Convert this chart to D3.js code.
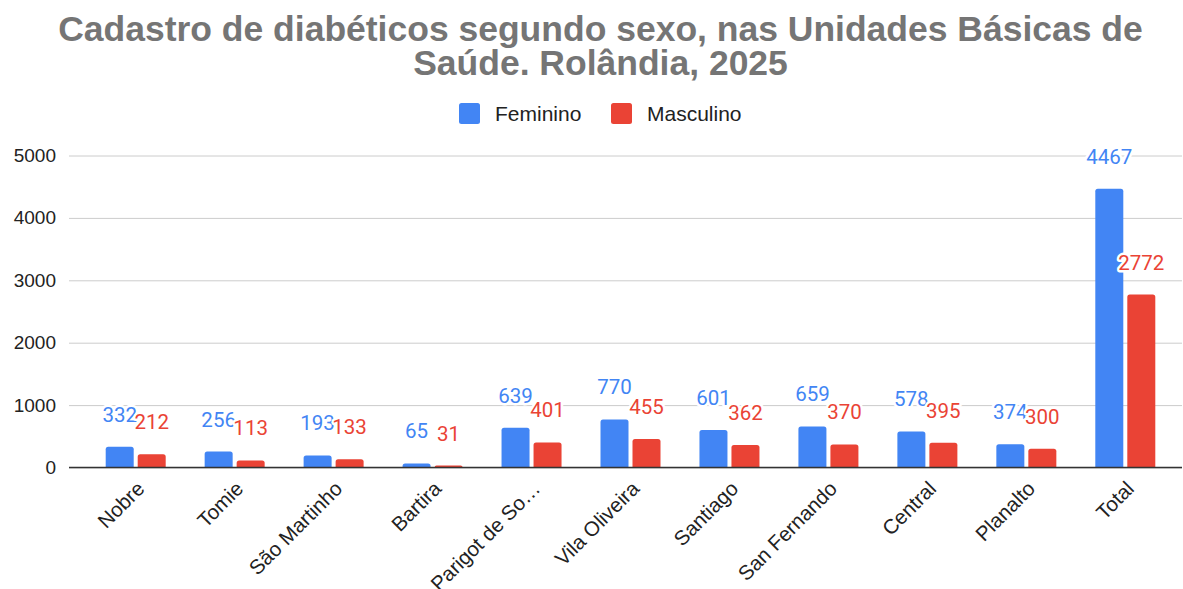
<!DOCTYPE html>
<html>
<head>
<meta charset="utf-8">
<script src="https://cdn.jsdelivr.net/npm/d3@7"></script>
<style>
  html, body { margin: 0; padding: 0; background: #fff; }
  svg { display: block; }
</style>
</head>
<body>
<svg id="chart" width="1183" height="589"></svg>
<script>
const titleLines = ["Cadastro de diabéticos segundo sexo, nas Unidades Básicas de", "Saúde. Rolândia, 2025"];
const categories = ["Nobre", "Tomie", "São Martinho", "Bartira", "Parigot de So…", "Vila Oliveira", "Santiago", "San Fernando", "Central", "Planalto", "Total"];
const seriesNames = ["Feminino", "Masculino"];
const feminino = [332, 256, 193, 65, 639, 770, 601, 659, 578, 374, 4467];
const masculino = [212, 113, 133, 31, 401, 455, 362, 370, 395, 300, 2772];
const yTicks = [0, 1000, 2000, 3000, 4000, 5000];
const colors = ["#4285F4", "#EA4335"];

const svg = d3.select("#chart");
const plotLeft = 69, plotRight = 1182;
const y = d3.scaleLinear().domain([0, 5000]).range([467.5, 155.5]);
const x = d3.scalePoint().domain(categories).range([135.7, 1125.3]);
const barW = 28, gap = 4;
const sans = "'Liberation Sans', Arial, sans-serif";

// Title
const title = svg.append("g").attr("font-family", sans)
  .attr("font-weight", "bold").attr("fill", "#757575").attr("text-anchor", "middle");
const t1 = title.append("text").attr("x", 600.5).attr("y", 40.5).attr("font-size", 34).text(titleLines[0]);
const len = t1.node().getComputedTextLength();
const fs = 34 * 1085 / len;
t1.attr("font-size", fs);
title.append("text").attr("x", 600.5).attr("y", 74.5).attr("font-size", fs).text(titleLines[1]);

// Legend
const legendX = [459, 611];
const legend = svg.append("g").attr("font-family", sans).attr("font-size", 21);
seriesNames.forEach((name, i) => {
  legend.append("rect").attr("x", legendX[i]).attr("y", 103).attr("width", 21).attr("height", 21)
    .attr("rx", 2.5).attr("fill", colors[i]);
  legend.append("text").attr("x", legendX[i] + 36).attr("y", 120.5).attr("fill", "#222").text(name);
});

// Y axis with gridlines
const yAxis = d3.axisLeft(y).tickValues(yTicks).tickSize(-(plotRight - plotLeft)).tickFormat(d3.format("d"));
const yg = svg.append("g").attr("transform", `translate(${plotLeft},0)`).call(yAxis);
yg.select(".domain").remove();
yg.selectAll(".tick line").attr("stroke", "#cccccc").attr("stroke-width", 1);
yg.selectAll(".tick text").attr("font-family", sans).attr("font-size", 19).attr("fill", "#222").attr("x", -13);

function topRounded(x0, y0, w, h, r) {
  r = Math.min(r, h, w / 2);
  return `M${x0},${y0 + h}V${y0 + r}Q${x0},${y0} ${x0 + r},${y0}H${x0 + w - r}Q${x0 + w},${y0} ${x0 + w},${y0 + r}V${y0 + h}Z`;
}

const series = [feminino, masculino];
const offsets = [-(barW + gap / 2), gap / 2];
const bars = svg.append("g");
series.forEach((vals, s) => {
  bars.selectAll(null).data(categories).enter().append("path")
    .attr("d", (c, i) => {
      const x0 = x(c) + offsets[s];
      const yt = y(vals[i]);
      return topRounded(x0, yt, barW, y(0) - yt, 2.5);
    })
    .attr("fill", colors[s]);
});

// zero axis line
svg.append("line").attr("x1", plotLeft).attr("x2", plotRight).attr("y1", y(0)).attr("y2", y(0))
  .attr("stroke", "#333").attr("stroke-width", 1.5);

// X axis labels
const xg = svg.append("g").attr("font-family", sans).attr("font-size", 20.5).attr("fill", "#222");
categories.forEach(c => {
  xg.append("text").attr("text-anchor", "end")
    .attr("transform", `translate(${x(c) + 10},${490}) rotate(-45)`).text(c);
});

// Data labels
const labels = svg.append("g").attr("font-family", "Roboto, sans-serif").attr("font-size", 20.5)
  .attr("text-anchor", "middle");
series.forEach((vals, s) => {
  labels.selectAll(null).data(categories).enter().append("text")
    .attr("x", (c) => x(c) + offsets[s] + barW / 2)
    .attr("y", (c, i) => y(vals[i]) - 25)
    .attr("fill", colors[s])
    .attr("stroke", "#fff").attr("stroke-width", 5).attr("stroke-linejoin", "round")
    .attr("paint-order", "stroke")
    .text((c, i) => vals[i]);
});
</script>
</body>
</html>
